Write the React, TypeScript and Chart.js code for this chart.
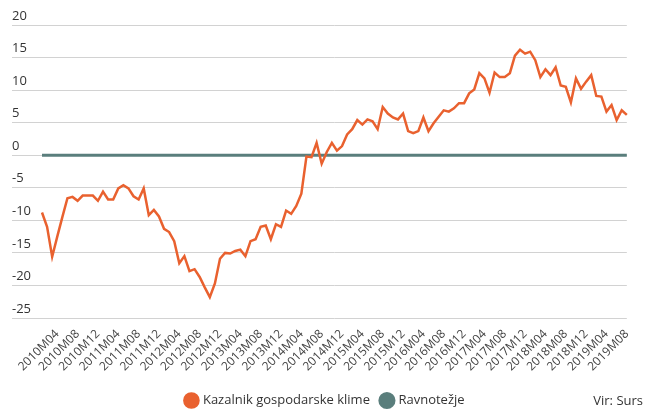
import React, { useEffect, useRef } from 'react';
import { Chart, registerables } from 'chart.js';

Chart.register(...registerables);

const MONTHS = [
  '2010M01', '2010M02', '2010M03', '2010M04', '2010M05', '2010M06', '2010M07', '2010M08', '2010M09', '2010M10', '2010M11', '2010M12',
  '2011M01', '2011M02', '2011M03', '2011M04', '2011M05', '2011M06', '2011M07', '2011M08', '2011M09', '2011M10', '2011M11', '2011M12',
  '2012M01', '2012M02', '2012M03', '2012M04', '2012M05', '2012M06', '2012M07', '2012M08', '2012M09', '2012M10', '2012M11', '2012M12',
  '2013M01', '2013M02', '2013M03', '2013M04', '2013M05', '2013M06', '2013M07', '2013M08', '2013M09', '2013M10', '2013M11', '2013M12',
  '2014M01', '2014M02', '2014M03', '2014M04', '2014M05', '2014M06', '2014M07', '2014M08', '2014M09', '2014M10', '2014M11', '2014M12',
  '2015M01', '2015M02', '2015M03', '2015M04', '2015M05', '2015M06', '2015M07', '2015M08', '2015M09', '2015M10', '2015M11', '2015M12',
  '2016M01', '2016M02', '2016M03', '2016M04', '2016M05', '2016M06', '2016M07', '2016M08', '2016M09', '2016M10', '2016M11', '2016M12',
  '2017M01', '2017M02', '2017M03', '2017M04', '2017M05', '2017M06', '2017M07', '2017M08', '2017M09', '2017M10', '2017M11', '2017M12',
  '2018M01', '2018M02', '2018M03', '2018M04', '2018M05', '2018M06', '2018M07', '2018M08', '2018M09', '2018M10', '2018M11', '2018M12',
  '2019M01', '2019M02', '2019M03', '2019M04', '2019M05', '2019M06', '2019M07', '2019M08',
];

const KAZALNIK = [
  -8.8, -11.0, -15.6, -12.5, -9.5, -6.6, -6.4, -7.0, -6.2, -6.2, -6.2, -7.0,
  -5.6, -6.8, -6.8, -5.1, -4.6, -5.1, -6.3, -6.8, -5.1, -9.2, -8.4, -9.4,
  -11.3, -11.8, -13.2, -16.6, -15.5, -17.8, -17.5, -18.7, -20.3, -21.8, -19.7, -15.9,
  -15.0, -15.1, -14.7, -14.5, -15.5, -13.2, -12.9, -11.0, -10.8, -12.9, -10.6, -11.0,
  -8.5, -9.0, -7.8, -5.9, -0.2, -0.3, 1.9, -1.3, 0.5, 1.9, 0.7, 1.4,
  3.2, 4.0, 5.4, 4.7, 5.5, 5.2, 4.0, 7.4, 6.4, 5.8, 5.5, 6.4,
  3.7, 3.4, 3.7, 5.8, 3.7, 4.9, 5.9, 6.9, 6.7, 7.2, 8.0, 8.0,
  9.5, 10.1, 12.6, 11.8, 9.6, 12.7, 12.0, 12.0, 12.6, 15.3, 16.2, 15.6,
  15.9, 14.6, 12.0, 13.2, 12.3, 13.5, 10.7, 10.5, 8.1, 11.8, 10.2, 11.3,
  12.3, 9.1, 9.0, 6.7, 7.7, 5.4, 6.9, 6.2,
];

const RAVNOTEZJE = [
  0, 0, 0, 0, 0, 0, 0, 0, 0, 0, 0, 0,
  0, 0, 0, 0, 0, 0, 0, 0, 0, 0, 0, 0,
  0, 0, 0, 0, 0, 0, 0, 0, 0, 0, 0, 0,
  0, 0, 0, 0, 0, 0, 0, 0, 0, 0, 0, 0,
  0, 0, 0, 0, 0, 0, 0, 0, 0, 0, 0, 0,
  0, 0, 0, 0, 0, 0, 0, 0, 0, 0, 0, 0,
  0, 0, 0, 0, 0, 0, 0, 0, 0, 0, 0, 0,
  0, 0, 0, 0, 0, 0, 0, 0, 0, 0, 0, 0,
  0, 0, 0, 0, 0, 0, 0, 0, 0, 0, 0, 0,
  0, 0, 0, 0, 0, 0, 0, 0,
];

const SERIES_NAMES = ['Kazalnik gospodarske klime', 'Ravnotežje'];
const LABELED_MONTHS = ['M04', 'M08', 'M12'];
const Y_MIN = -25;
const Y_MAX = 20;
const Y_STEP = 5;
const SOURCE_TEXT = 'Vir: Surs';

const ORANGE = '#e9612f';
const GREEN = '#5a7e7c';
const FONT = "'Open Sans', 'Noto Sans', sans-serif";

export default function App() {
  const canvasRef = useRef<HTMLCanvasElement>(null);

  useEffect(() => {
    if (!canvasRef.current) return;
    const chart = new Chart(canvasRef.current, {
      type: 'line',
      data: {
        labels: MONTHS,
        datasets: [
          {
            label: SERIES_NAMES[0],
            data: KAZALNIK,
            borderColor: ORANGE,
            backgroundColor: ORANGE,
            borderWidth: 2.5,
            pointRadius: 0,
            tension: 0,
          },
          {
            label: SERIES_NAMES[1],
            data: RAVNOTEZJE,
            borderColor: GREEN,
            backgroundColor: GREEN,
            borderWidth: 3,
            pointRadius: 0,
            tension: 0,
          },
        ],
      },
      options: {
        animation: false,
        responsive: false,
        layout: { padding: { left: 12, right: 7, top: 25, bottom: 0 } },
        scales: {
          x: {
            grid: { display: false, drawTicks: false, tickLength: 0 },
            border: { display: false },
            ticks: {
              autoSkip: false,
              minRotation: 45,
              maxRotation: 45,
              padding: 9,
              color: '#444',
              font: { family: FONT, size: 12 },
              callback: (_v: any, i: number) => {
                const l = MONTHS[i];
                return LABELED_MONTHS.some((m) => l.endsWith(m)) ? l : '';
              },
            },
            afterFit: (s: any) => {
              s.height = 64;
            },
          },
          y: {
            min: Y_MIN,
            max: Y_MAX,
            grid: { color: '#d2d2d2', lineWidth: 1, drawTicks: true, tickLength: 30 },
            border: { display: false },
            ticks: {
              stepSize: Y_STEP,
              crossAlign: 'far',
              labelOffset: -9,
              padding: 0,
              color: '#333',
              font: { family: FONT, size: 13 },
            },
            afterFit: (s: any) => {
              s.width = 30;
            },
          },
        },
        plugins: {
          legend: {
            position: 'bottom',
            labels: {
              usePointStyle: true,
              pointStyle: 'circle',
              boxWidth: 10,
              boxHeight: 10,
              padding: 12,
              color: '#333',
              font: { family: FONT, size: 13 },
            },
          },
          tooltip: { enabled: false },
        },
      },
    } as any);
    return () => chart.destroy();
  }, []);

  return (
    <div style={{ position: 'fixed', left: 0, top: 0, width: 646, height: 412, overflow: 'hidden', background: '#fff' }}>
      <canvas ref={canvasRef} width={646} height={417} style={{ width: 646, height: 417, display: 'block' }} />
      <div
        style={{
          position: 'absolute',
          right: 3,
          top: 391,
          fontFamily: FONT,
          fontSize: 13,
          lineHeight: '18px',
          color: '#333',
        }}
      >
        {SOURCE_TEXT}
      </div>
    </div>
  );
}
